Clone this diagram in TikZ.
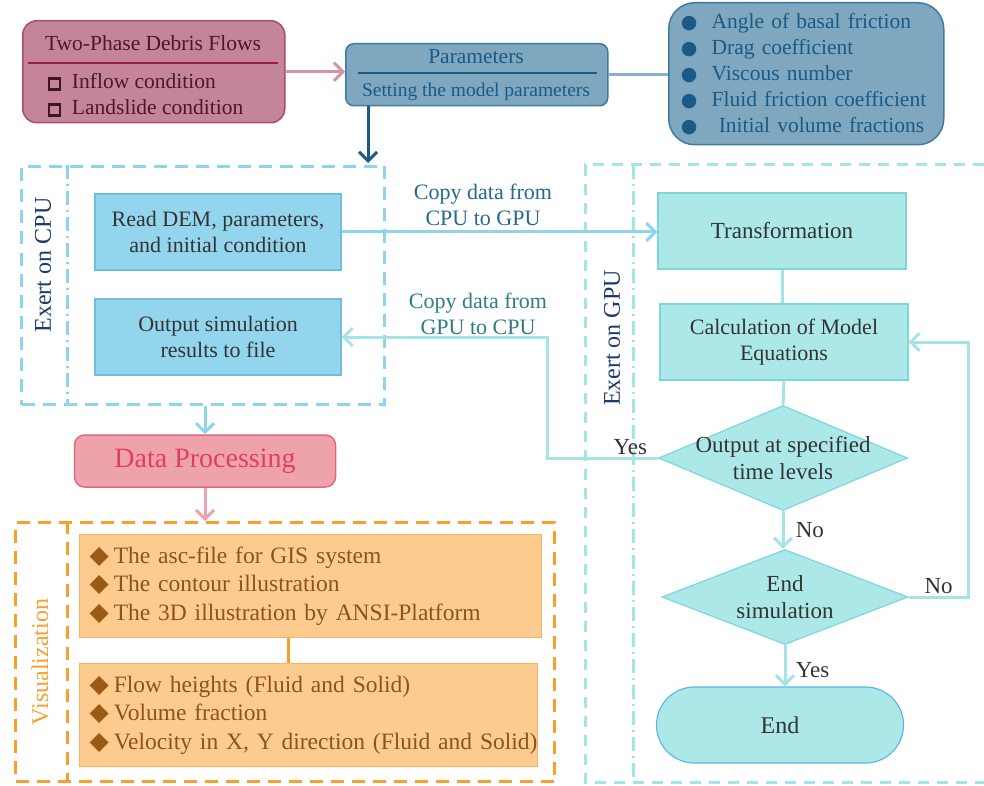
\documentclass[tikz,border=0pt]{standalone}
\usepackage{fontspec}
\setmainfont{Liberation Serif}
\newfontfamily\symfont{DejaVu Sans}
\usetikzlibrary{arrows.meta,shapes.geometric}
\definecolor{debrisfill}{HTML}{C4849A}
\definecolor{debrisdraw}{HTML}{A94C70}
\definecolor{debrisink}{HTML}{4D1630}
\definecolor{debrisrule}{HTML}{9A1C48}
\definecolor{debrisarrow}{HTML}{D394A8}
\definecolor{paramfill}{HTML}{7FA7BF}
\definecolor{paramdraw}{HTML}{3E7BA2}
\definecolor{paramink}{HTML}{1B5A86}
\definecolor{paramlink}{HTML}{8EAFCB}
\definecolor{navyink}{HTML}{1A3A6C}
\definecolor{navyarrow}{HTML}{1B5A85}
\definecolor{cpuline}{HTML}{8ED4EE}
\definecolor{cpufill}{HTML}{94D5EE}
\definecolor{cpudraw}{HTML}{6CBFE2}
\definecolor{gpuline}{HTML}{A4E4E6}
\definecolor{gpufill}{HTML}{ADE8E9}
\definecolor{gpudraw}{HTML}{7CD6DA}
\definecolor{enddraw}{HTML}{5BB8E2}
\definecolor{copyink}{HTML}{226A8F}
\definecolor{backink}{HTML}{2E7C80}
\definecolor{boxink}{HTML}{333333}
\definecolor{dpfill}{HTML}{EEA2AC}
\definecolor{dpdraw}{HTML}{E06B7C}
\definecolor{dpink}{HTML}{E0405C}
\definecolor{dparrow}{HTML}{EBA3AF}
\definecolor{visorange}{HTML}{F8A02C}
\definecolor{visfill}{HTML}{FECB8E}
\definecolor{visdraw}{HTML}{F6B466}
\definecolor{visink}{HTML}{8A5618}
\definecolor{visbullet}{HTML}{9B5A16}
\newcommand\hollowsq{{\color{debrisink!80!black}\setlength\fboxrule{2.6pt}\setlength\fboxsep{0pt}\fbox{\rule{0pt}{8.5pt}\hspace{8.5pt}}}}
\newcommand\roundbul{{\symfont\fontsize{19}{26}\selectfont ●}}
\newcommand\diabul{{\color{visbullet}\symfont\fontsize{25}{28}\selectfont ◆}\hspace{5pt}}
\newcommand\zw[1]{\makebox[0pt]{#1}}
\tikzset{
  txtmain/.style={font=\fontsize{22}{26}\selectfont, text=boxink},
  debrisbox/.style={draw=debrisdraw, fill=debrisfill, line width=1.5pt,
    rounded corners=14pt, anchor=north west, inner sep=0pt},
  debristitle/.style={font=\fontsize{21.5}{26}\selectfont, text=debrisink},
  debrisitems/.style={font=\fontsize{21.5}{26}\selectfont, text=debrisink, align=left},
  parambox/.style={draw=paramdraw, fill=paramfill, line width=1.5pt,
    rounded corners=8pt, anchor=north west, inner sep=0pt},
  paramtitle/.style={font=\fontsize{21.5}{26}\selectfont, text=paramink},
  paramsub/.style={font=\fontsize{19.5}{24}\selectfont, text=paramink},
  paramlist/.style={draw=paramdraw, fill=paramfill, line width=1.5pt,
    rounded corners=26pt, anchor=north west, inner xsep=12pt,
    font=\fontsize{21.5}{26}\selectfont, text=paramink, align=left},
  cpubox/.style={txtmain, draw=cpudraw, fill=cpufill, line width=1.2pt,
    minimum width=246, minimum height=76, align=center},
  gpubox/.style={font=\fontsize{23}{27}\selectfont, text=boxink, draw=gpudraw,
    fill=gpufill, line width=1.2pt, minimum width=248, minimum height=76, align=center},
  decision/.style={diamond, font=\fontsize{23}{27}\selectfont, text=boxink,
    draw=gpudraw, fill=gpufill, line width=1.2pt, inner sep=0pt, align=center},
  endbox/.style={font=\fontsize{24}{28}\selectfont, text=boxink, draw=enddraw,
    fill=gpufill, line width=1.2pt, minimum width=247, minimum height=76,
    rounded corners=38pt},
  dpbox/.style={font=\fontsize{28}{32}\selectfont, text=dpink, draw=dpdraw,
    fill=dpfill, line width=1.5pt, rounded corners=10pt,
    minimum width=261, minimum height=52},
  vislist/.style={font=\fontsize{23.5}{28.5}\selectfont, text=visink, draw=visdraw,
    fill=visfill, line width=1.2pt, anchor=north west, inner xsep=10pt,
    align=left, minimum height=103},
  exertlabel/.style={rotate=90, font=\fontsize{24}{28}\selectfont, text=navyink},
  vislabel/.style={rotate=90, font=\fontsize{24}{28}\selectfont, text=visorange},
  copylabel/.style={txtmain, text=copyink, align=center},
  flowlabel/.style={font=\fontsize{23}{27}\selectfont, text=boxink},
  cpuframe/.style={draw=cpuline, line width=3pt, dash pattern=on 13pt off 8pt,
    anchor=north west, inner sep=0pt},
  gpuframe/.style={draw=gpuline, line width=3pt, dash pattern=on 11pt off 8pt},
  visframe/.style={draw=visorange, line width=3pt, dash pattern=on 13pt off 8pt,
    anchor=north west, inner sep=0pt},
  cpudashdot/.style={draw=cpuline, line width=3pt, dash pattern=on 14pt off 5pt on 2pt off 5pt},
  gpudashdot/.style={draw=gpuline, line width=3pt, dash pattern=on 14pt off 5pt on 2pt off 5pt},
  tipflow/.style={-{Straight Barb[length=9pt,width=18pt]}, line width=3pt},
  debrisflow/.style={tipflow, draw=debrisarrow},
  navyflow/.style={tipflow, draw=navyarrow},
  cpuflow/.style={tipflow, draw=cpuline},
  gpuflow/.style={tipflow, draw=gpuline},
  dpflow/.style={tipflow, draw=dparrow},
  gpulink/.style={draw=gpuline, line width=3pt},
  paramlinkline/.style={draw=paramlink, line width=3pt},
  vislinkline/.style={draw=visorange, line width=3pt}
}
\begin{document}
\begin{tikzpicture}[x=1pt,y=-1pt]
  \useasboundingbox (0,0) rectangle (984,786);
  % inputs and model parameters
  \node[debrisbox, minimum width=262, minimum height=102] (debris) at (22,20) {};
  \node[debristitle] (debristitle) at (153,43) {Two-Phase Debris Flows};
  \draw[debrisrule, line width=2pt] (28,63) -- (278,63);
  \node[debrisitems, anchor=west] (debrisitems) at (44,95)
    {\hollowsq\ \ Inflow condition\\\hollowsq\ \ Landslide condition};
  \node[parambox, minimum width=262, minimum height=62] (param) at (345,43) {};
  \node[paramtitle] (paramtitle) at (476,57) {Parameters};
  \draw[paramink, line width=2pt] (358,73) -- (597,73);
  \node[paramsub] (paramsub) at (476,92) {Setting the model parameters};
  \node[paramlist, minimum width=275, minimum height=142, text width=251] (paramlist) at (668,2)
    {\roundbul\ \ Angle of basal friction\\\roundbul\ \ Drag coefficient\\
     \roundbul\ \ Viscous number\\\roundbul\ \ Fluid friction coefficient\\
     \roundbul\ \ \ Initial volume fractions};
  \draw[debrisflow] (debris.east) -- (debris.east -| param.west);
  \draw[paramlinkline] (param.east) -- (param.east -| paramlist.west);
  \coordinate (cputop) at (368,163);
  \draw[navyflow] (cputop |- param.south) -- (cputop);

  % CPU side
  \node[cpuframe, minimum width=363, minimum height=238] (cpu) at (20,165) {};
  \draw[cpudashdot] (67,165) -- (67,403);
  \node[exertlabel] (cpulabel) at (43,265) {Exert on CPU};
  \node[cpubox] (readdem) at (218,232) {Read DEM, parameters,\\and initial condition};
  \node[cpubox] (output) at (218,337) {Output simulation\\results to file};

  % GPU side
  \draw[gpuframe] (984,165) -- (585,165) -- (585,782) -- (984,782);
  \draw[gpudashdot] (633,165) -- (633,782);
  \node[exertlabel] (gpulabel) at (612,338) {Exert on GPU};
  \node[gpubox] (transf) at (782,231) {Transformation};
  \node[gpubox, font=\fontsize{22}{26}\selectfont] (calc) at (784,342) {Calculation of Model\\Equations};
  \node[decision, minimum width=249, minimum height=105] (outlevel) at (783,458)
    {\zw{Output at specified}\\\zw{time levels}};
  \node[decision, minimum width=246, minimum height=95] (endsim) at (785,597)
    {\zw{End}\\\zw{simulation}};
  \node[endbox] (finish) at (780,725) {End};

  \draw[gpulink] (transf.south) -- (transf.south |- calc.north);
  \draw[gpulink] (calc.south) -- (outlevel.north);
  \draw[gpuflow] (outlevel.south) -- (outlevel.south |- endsim.north)
    node[flowlabel, midway, right, xshift=8pt] {No};
  \draw[gpuflow] (endsim.south) -- (endsim.south |- finish.north)
    node[flowlabel, midway, right, xshift=6pt, yshift=-4pt] {Yes};
  \draw[gpuflow] (endsim.east) -- node[flowlabel, above, yshift=-2pt] {No} ++(60,0) |- (calc.east);
  \draw[gpuflow] (outlevel.west) -- node[flowlabel, pos=0.25, above, yshift=-2pt] {Yes} ++(-110,0)
    |- (output.east);
  \draw[cpuflow] (readdem.east) -- (readdem.east -| transf.west);
  \node[copylabel] (copyto) at (483,205) {Copy data from\\CPU to GPU};
  \node[copylabel, text=backink] (copyback) at (478,314) {Copy data from\\GPU to CPU};

  % post-processing
  \node[dpbox] (dataproc) at (205,461) {Data Processing};
  \draw[cpuflow] (cpu.south -| dataproc.north) -- (dataproc.north);
  \node[visframe, minimum width=539, minimum height=259] (vis) at (14,521) {};
  \draw[dpflow] (dataproc.south) -- (dataproc.south |- vis.north);
  \draw[visorange, line width=3pt, dash pattern=on 13pt off 8pt] (67,521) -- (67,780);
  \node[vislabel] (vislabel) at (40,662) {Visualization};
  \node[vislist, text width=442] (visout) at (79,534)
    {\diabul The asc-file for GIS system\\\diabul The contour illustration\\
     \diabul The 3D illustration by ANSI-Platform};
  \node[vislist, text width=438] (visvars) at (79,663)
    {\diabul Flow heights (Fluid and Solid)\\\diabul Volume fraction\\
     \mbox{\diabul Velocity in X, Y direction (Fluid and Solid)}};
  \coordinate (vislink) at (288,650);
  \draw[vislinkline] (vislink |- visout.south) -- (vislink |- visvars.north);
\end{tikzpicture}
\end{document}
